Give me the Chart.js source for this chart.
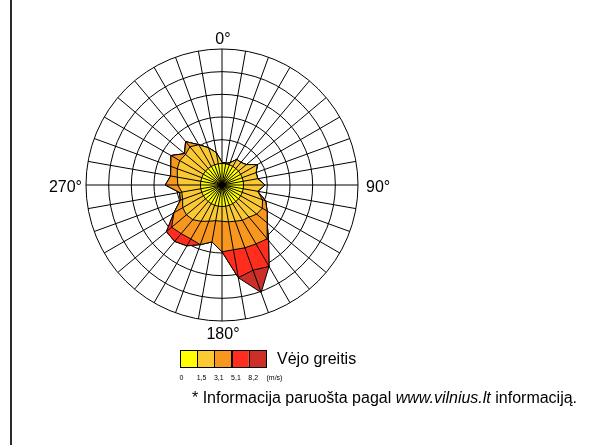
<!DOCTYPE html>
<html>
<head>
<meta charset="utf-8">
<script src="https://cdn.jsdelivr.net/npm/chart.js@4.4.1/dist/chart.umd.min.js"></script>
<style>
  html, body { margin: 0; padding: 0; background: #fff; }
  #wrap { position: relative; width: 602px; height: 445px; }
  #edge { position: absolute; left: 10px; top: 0; width: 2px; height: 445px; background: #2b2b2b; }
  canvas { position: absolute; left: 0; top: 0; }
</style>
</head>
<body>
<div id="wrap">
  <canvas id="rose" width="602" height="445"></canvas>
  <div id="edge"></div>
</div>
<script>
// kryptys (kas 10 laipsniu)
const directions = ['0°','10°','20°','30°','40°','50°','60°','70°','80°','90°','100°','110°',
  '120°','130°','140°','150°','160°','170°','180°','190°','200°','210°','220°','230°',
  '240°','250°','260°','270°','280°','290°','300°','310°','320°','330°','340°','350°'];

// dalis kiekvienai greicio klasei (nuskaityta is paveikslo)
const speed0_15 = [0.95,0.95,0.95,0.95,0.95,0.95,0.95,0.95,0.95,0.95,0.95,0.95,
  0.95,0.95,0.95,0.95,0.95,0.95,0.95,0.95,0.95,0.95,0.95,0.95,
  0.95,0.95,0.95,0.95,0.95,0.95,0.95,0.95,0.95,0.95,0.95,0.95];
const speed15_31 = [0.05,0,0.1,0.35,0.35,0.45,0.85,0.65,0.65,0.95,0.65,0.95,
  1.1,1.05,0.9,0.85,0.75,0.7,0.65,0.65,0.75,0.9,1.05,1.1,
  1.05,0.9,0.85,1.0,1.05,1.15,1.2,1.15,1.25,1.1,0.8,0.5];
const speed31_51 = [0,0,0,0,0,0,0,0,0,0,0,0.15,
  0.25,0.6,1.25,1.2,1.25,1.25,1.35,0.95,1.1,0.9,0.8,0.85,
  0.45,0.1,0.1,0.55,0.3,0.3,0.45,0.05,0.3,0,0,0];
const speed51_82 = [0,0,0,0,0,0,0,0,0,0,0,0,
  0,0,0.1,1.15,1.05,1.25,0,0,0,0.35,0.45,0.3,
  0,0,0,0,0,0,0,0,0,0,0,0];
const speed82 = [0,0,0,0,0,0,0,0,0,0,0,0,
  0,0,0,0,1.05,0,0,0,0,0,0,0,
  0,0,0,0,0,0,0,0,0,0,0,0];

const classColors = ['#ffff00','#fbc934','#f7971f','#ff2d1e','#cc2e28'];
const classLabels = ['0','1,5','3,1','5,1','8,2'];

const series = [speed0_15, speed15_31, speed31_51, speed51_82, speed82];
let running = directions.map(() => 0);
const datasets = series.map((vals, k) => {
  running = running.map((s, i) => s + vals[i]);
  return {
    label: classLabels[k],
    data: running.slice(),
    backgroundColor: classColors[k],
    borderColor: '#000',
    borderWidth: 1,
    fill: 'origin',
    pointRadius: 0,
    pointHoverRadius: 0
  };
});

// stipinai virs uzpildo
const spokes = {
  id: 'spokes',
  afterDatasetsDraw(chart) {
    const s = chart.scales.r;
    const ctx = chart.ctx;
    ctx.save();
    ctx.strokeStyle = '#000';
    ctx.lineWidth = 1;
    for (let i = 0; i < directions.length; i++) {
      const p = s.getPointPositionForValue(i, s.max);
      ctx.beginPath();
      ctx.moveTo(s.xCenter, s.yCenter);
      ctx.lineTo(p.x, p.y);
      ctx.stroke();
    }
    ctx.restore();
  }
};

// krypciu uzrasai, legenda ir pastaba
const texts = {
  id: 'texts',
  afterDraw(chart) {
    const s = chart.scales.r;
    const ctx = chart.ctx;
    ctx.save();
    ctx.fillStyle = '#000';
    ctx.font = '16px "Liberation Sans", Arial, sans-serif';
    ctx.textBaseline = 'alphabetic';
    let p = s.getPointPositionForValue(0, s.max);
    ctx.textAlign = 'center';
    ctx.fillText('0°', p.x + 1, p.y - 5);
    p = s.getPointPositionForValue(18, s.max);
    ctx.fillText('180°', p.x + 1, p.y + 18);
    p = s.getPointPositionForValue(9, s.max);
    ctx.textAlign = 'left';
    ctx.fillText('90°', p.x + 8, p.y + 7);
    p = s.getPointPositionForValue(27, s.max);
    ctx.textAlign = 'right';
    ctx.fillText('270°', p.x - 4, p.y + 7);

    // legenda
    const bx = 180, by = 350, bw = 17.2, bh = 17;
    for (let k = 0; k < classColors.length; k++) {
      ctx.fillStyle = classColors[k];
      ctx.fillRect(bx + k * bw, by, bw, bh);
    }
    ctx.strokeStyle = '#000';
    ctx.lineWidth = 1;
    for (let k = 0; k < classColors.length; k++) {
      ctx.strokeRect(Math.round(bx + k * bw) + 0.5, by + 0.5, Math.round(bw), bh);
    }
    ctx.fillStyle = '#000';
    ctx.textAlign = 'left';
    ctx.font = '16px "Liberation Sans", Arial, sans-serif';
    ctx.fillText('Vėjo greitis', 277, 363.5);
    ctx.font = '7px "Liberation Sans", Arial, sans-serif';
    for (let k = 0; k < classLabels.length; k++) {
      ctx.fillText(classLabels[k], bx + k * bw - 0.5, 379.5);
    }
    ctx.fillText('(m/s)', bx + classColors.length * bw + 0.5, 379.5);

    // pastaba
    ctx.font = '16px "Liberation Sans", Arial, sans-serif';
    let x = 192;
    const y = 402.5;
    const parts = [['* Informacija paruošta pagal ', false], ['www.vilnius.lt', true], [' informaciją.', false]];
    parts.forEach(([t, it]) => {
      ctx.font = (it ? 'italic ' : '') + '16px "Liberation Sans", Arial, sans-serif';
      ctx.fillText(t, x, y);
      x += ctx.measureText(t).width;
    });
    ctx.restore();
  }
};

new Chart(document.getElementById('rose'), {
  type: 'radar',
  data: { labels: directions, datasets: datasets },
  options: {
    responsive: false,
    animation: false,
    layout: { padding: { left: 86, right: 244, top: 49, bottom: 124 } },
    elements: { line: { tension: 0 } },
    plugins: {
      legend: { display: false },
      tooltip: { enabled: false }
    },
    scales: {
      r: {
        min: 0,
        max: 6,
        ticks: { display: false, stepSize: 1 },
        grid: { color: '#000', lineWidth: 1, circular: true },
        angleLines: { display: false },
        pointLabels: { display: false }
      }
    }
  },
  plugins: [spokes, texts]
});
</script>
</body>
</html>
